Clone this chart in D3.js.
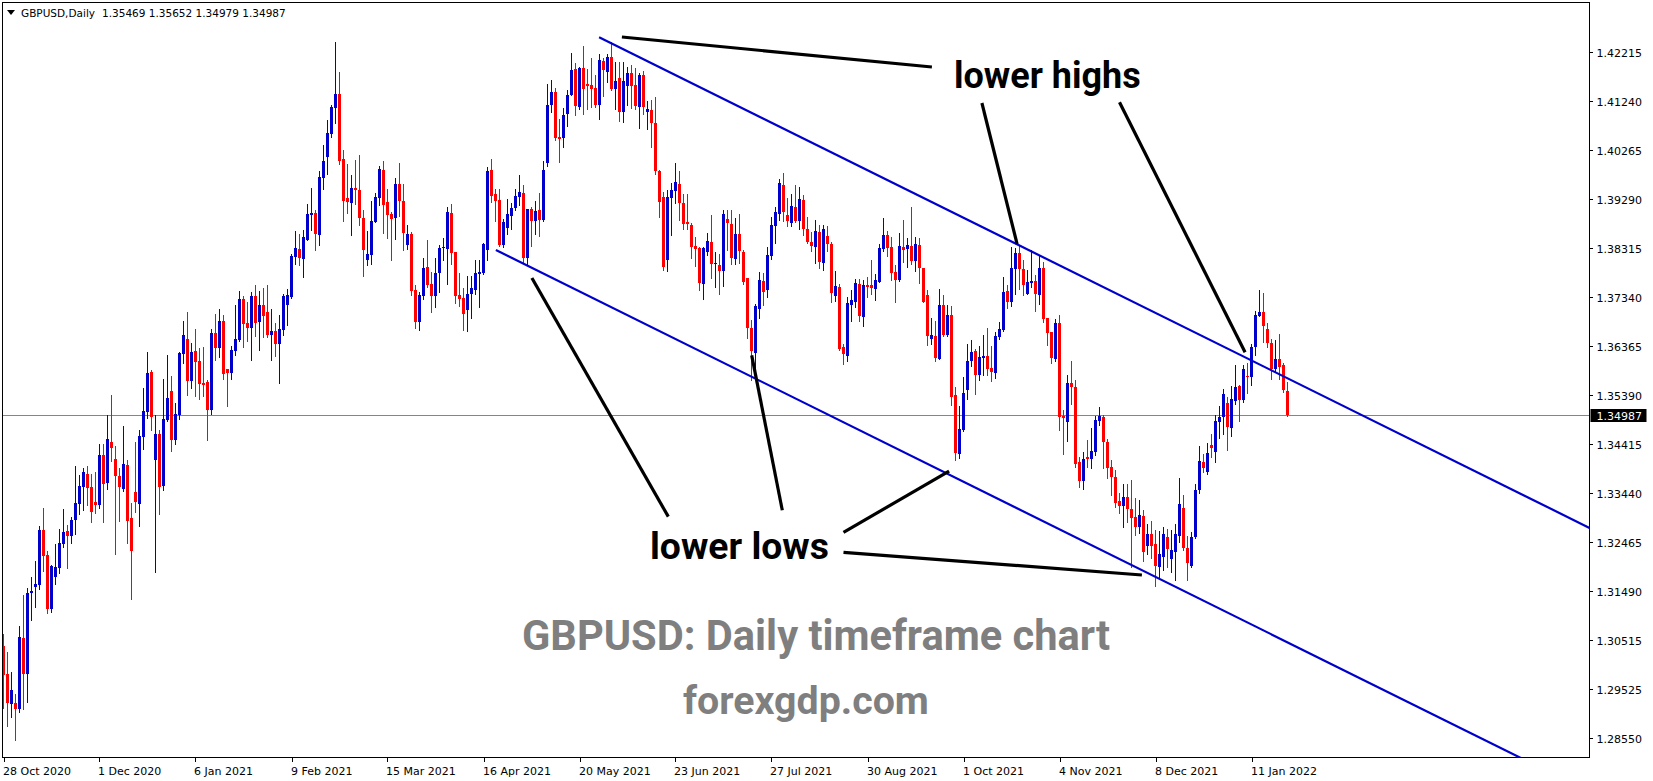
<!DOCTYPE html>
<html><head><meta charset="utf-8">
<script src="https://cdn.jsdelivr.net/npm/d3@7/dist/d3.min.js"></script>
<style>html,body{margin:0;padding:0;background:#fff;overflow:hidden}svg{display:block}</style>
</head><body><svg id="c" width="1653" height="781"></svg>
<script>
// ---- data (daily OHLC, bar index 0 = 28 Oct 2020) ----
const opens=[1.3039,1.2983,1.2923,1.2925,1.2914,1.3055,1.2983,1.3144,1.3157,1.3160,1.3270,1.3220,1.3113,1.3177,1.3195,1.3243,1.3268,1.3258,1.3290,1.3322,1.3356,1.3382,1.3356,1.3326,1.3320,1.3419,1.3364,1.3445,1.3411,1.3378,1.3352,1.3399,1.3294,1.3346,1.3322,1.3455,1.3505,1.3585,1.3409,1.3461,1.3358,1.3489,1.3547,1.3449,1.3499,1.3620,1.3650,1.3567,1.3626,1.3606,1.3563,1.3565,1.3509,1.3662,1.3632,1.3686,1.3591,1.3583,1.3626,1.3648,1.3730,1.3682,1.3672,1.3736,1.3684,1.3718,1.3704,1.3658,1.3666,1.3640,1.3668,1.3718,1.3735,1.3814,1.3830,1.3810,1.3848,1.3897,1.3901,1.3858,1.3971,1.4013,1.4059,1.4111,1.4138,1.4009,1.3931,1.3921,1.3951,1.3947,1.3891,1.3808,1.3818,1.3883,1.3931,1.3987,1.3923,1.3899,1.3891,1.3959,1.3925,1.3838,1.3860,1.3748,1.3684,1.3736,1.3794,1.3760,1.3736,1.3782,1.3832,1.3830,1.3901,1.3824,1.3738,1.3732,1.3708,1.3740,1.3748,1.3780,1.3782,1.3828,1.3987,1.3939,1.3927,1.3838,1.3872,1.3895,1.3911,1.3933,1.3941,1.3812,1.3909,1.3885,1.3907,1.3887,1.4001,1.4117,1.4142,1.4053,1.4051,1.4099,1.4136,1.4188,1.4113,1.4190,1.4158,1.4156,1.4150,1.4117,1.4204,1.4182,1.4212,1.4148,1.4170,1.4103,1.4154,1.4180,1.4156,1.4113,1.4176,1.4103,1.4107,1.4081,1.3986,1.3934,1.3808,1.3932,1.3945,1.3959,1.3922,1.3883,1.3877,1.3836,1.3832,1.3759,1.3824,1.3844,1.3799,1.3798,1.3785,1.3889,1.3880,1.3810,1.3860,1.3824,1.3772,1.3672,1.3623,1.3710,1.3766,1.3749,1.3816,1.3876,1.3900,1.3957,1.3897,1.3882,1.3913,1.3885,1.3927,1.3870,1.3844,1.3834,1.3864,1.3802,1.3856,1.3840,1.3737,1.3754,1.3634,1.3617,1.3719,1.3725,1.3760,1.3695,1.3758,1.3757,1.3750,1.3764,1.3830,1.3857,1.3834,1.3784,1.3768,1.3834,1.3830,1.3836,1.3806,1.3838,1.3792,1.3738,1.3650,1.3656,1.3611,1.3718,1.3658,1.3698,1.3539,1.3421,1.3469,1.3549,1.3607,1.3626,1.3579,1.3613,1.3617,1.3593,1.3583,1.3654,1.3668,1.3746,1.3724,1.3790,1.3822,1.3790,1.3740,1.3762,1.3766,1.3738,1.3792,1.3692,1.3664,1.3611,1.3682,1.3497,1.3485,1.3563,1.3555,1.3406,1.3368,1.3415,1.3411,1.3425,1.3487,1.3495,1.3445,1.3395,1.3375,1.3328,1.3318,1.3336,1.3312,1.3296,1.3276,1.3298,1.3238,1.3262,1.3242,1.3197,1.3217,1.3256,1.3213,1.3227,1.3257,1.3314,1.3235,1.3199,1.3255,1.3350,1.3405,1.3386,1.3439,1.3426,1.3486,1.3496,1.3523,1.3474,1.3527,1.3557,1.3529,1.3577,1.3574,1.3634,1.3697,1.3704,1.3670,1.3643,1.3590,1.3610,1.3599,1.35469];
const highs=[1.3063,1.3026,1.2987,1.2943,1.3079,1.3140,1.3154,1.3176,1.3208,1.3278,1.3314,1.3228,1.3200,1.3242,1.3272,1.3312,1.3280,1.3296,1.3397,1.3380,1.3393,1.3397,1.3382,1.3385,1.3441,1.3441,1.3499,1.3539,1.3437,1.3393,1.3477,1.3409,1.3324,1.3445,1.3469,1.3553,1.3624,1.3589,1.3499,1.3469,1.3571,1.3618,1.3577,1.3523,1.3624,1.3686,1.3704,1.3642,1.3670,1.3632,1.3634,1.3569,1.3670,1.3700,1.3710,1.3698,1.3591,1.3636,1.3718,1.3746,1.3736,1.3724,1.3744,1.3758,1.3746,1.3752,1.3758,1.3710,1.3682,1.3698,1.3740,1.3750,1.3820,1.3866,1.3860,1.3868,1.3919,1.3951,1.3907,1.3985,1.4037,1.4087,1.4117,1.4242,1.4182,1.4027,1.3999,1.3977,1.4007,1.4017,1.3907,1.3866,1.3925,1.3941,1.3995,1.4005,1.3949,1.3903,1.3971,1.4001,1.3959,1.3878,1.3864,1.3758,1.3744,1.3812,1.3848,1.3784,1.3812,1.3838,1.3852,1.3913,1.3919,1.3824,1.3782,1.3752,1.3776,1.3776,1.3808,1.3808,1.3842,1.3993,1.4009,1.3949,1.3949,1.3889,1.3929,1.3921,1.3949,1.3977,1.3957,1.3909,1.3913,1.3925,1.3941,1.4005,1.4158,1.4166,1.4150,1.4089,1.4111,1.4146,1.4220,1.4200,1.4192,1.4234,1.4188,1.4210,1.4176,1.4218,1.4210,1.4218,1.4242,1.4202,1.4202,1.4202,1.4192,1.4196,1.4190,1.4180,1.4184,1.4125,1.4127,1.4132,1.3988,1.3944,1.3947,1.3962,1.4001,1.3985,1.3939,1.3940,1.3881,1.3854,1.3833,1.3834,1.3862,1.3897,1.3823,1.3820,1.3907,1.3907,1.3907,1.3891,1.3899,1.3827,1.3772,1.3688,1.3720,1.3784,1.3782,1.3834,1.3894,1.3913,1.3969,1.3982,1.3931,1.3940,1.3957,1.3954,1.3937,1.3893,1.3864,1.3887,1.3878,1.3877,1.3875,1.3844,1.3786,1.3760,1.3640,1.3734,1.3749,1.3770,1.3769,1.3767,1.3774,1.3808,1.3780,1.3840,1.3891,1.3865,1.3853,1.3798,1.3862,1.3887,1.3852,1.3913,1.3853,1.3852,1.3792,1.3748,1.3692,1.3686,1.3750,1.3738,1.3718,1.3716,1.3555,1.3517,1.3575,1.3640,1.3648,1.3630,1.3636,1.3658,1.3672,1.3636,1.3664,1.3684,1.3774,1.3758,1.3834,1.3832,1.3836,1.3808,1.3788,1.3828,1.3778,1.3818,1.3804,1.3692,1.3664,1.3690,1.3698,1.3509,1.3579,1.3607,1.3569,1.3415,1.3425,1.3449,1.3473,1.3497,1.3515,1.3499,1.3451,1.3409,1.3389,1.3344,1.3362,1.3362,1.3369,1.3334,1.3330,1.3310,1.3282,1.3288,1.3270,1.3267,1.3276,1.3272,1.3270,1.3282,1.3373,1.3340,1.3257,1.3266,1.3362,1.3437,1.3421,1.3443,1.3461,1.3499,1.3516,1.3550,1.3534,1.3557,1.3599,1.3559,1.3599,1.3602,1.3640,1.3706,1.3748,1.3742,1.3682,1.3650,1.3648,1.3660,1.3603,1.35652];
const lows=[1.2916,1.2880,1.2898,1.2852,1.2908,1.2914,1.2928,1.3091,1.3117,1.3153,1.3189,1.3105,1.3107,1.3162,1.3184,1.3237,1.3194,1.3244,1.3262,1.3302,1.3310,1.3320,1.3286,1.3304,1.3314,1.3286,1.3352,1.3407,1.3222,1.3288,1.3348,1.3244,1.3132,1.3306,1.3278,1.3431,1.3493,1.3469,1.3186,1.3302,1.3350,1.3487,1.3427,1.3441,1.3491,1.3603,1.3539,1.3553,1.3537,1.3531,1.3537,1.3449,1.3501,1.3609,1.3615,1.3571,1.3517,1.3571,1.3619,1.3646,1.3634,1.3646,1.3609,1.3656,1.3629,1.3654,1.3654,1.3609,1.3617,1.3563,1.3658,1.3678,1.3732,1.3800,1.3798,1.3774,1.3848,1.3868,1.3828,1.3838,1.3949,1.3979,1.4053,1.4081,1.3999,1.3885,1.3901,1.3858,1.3919,1.3878,1.3776,1.3798,1.3800,1.3883,1.3917,1.3862,1.3852,1.3808,1.3850,1.3895,1.3828,1.3830,1.3738,1.3672,1.3668,1.3730,1.3754,1.3704,1.3714,1.3744,1.3808,1.3760,1.3800,1.3722,1.3716,1.3668,1.3666,1.3692,1.3740,1.3714,1.3780,1.3808,1.3923,1.3885,1.3836,1.3834,1.3860,1.3870,1.3907,1.3917,1.3802,1.3798,1.3836,1.3860,1.3856,1.3885,1.3995,1.4103,1.4047,1.4003,1.4033,1.4075,1.4136,1.4097,1.4109,1.4099,1.4109,1.4113,1.4113,1.4089,1.4134,1.4162,1.4146,1.4109,1.4085,1.4083,1.4117,1.4110,1.4109,1.4071,1.4099,1.4069,1.4033,1.3979,1.3894,1.3788,1.3785,1.3858,1.3922,1.3888,1.3870,1.3870,1.3812,1.3796,1.3749,1.3731,1.3817,1.3771,1.3753,1.3741,1.3755,1.3828,1.3799,1.3800,1.3802,1.3759,1.3653,1.3569,1.3571,1.3692,1.3719,1.3735,1.3809,1.3842,1.3888,1.3886,1.3875,1.3875,1.3884,1.3870,1.3857,1.3842,1.3826,1.3802,1.3792,1.3788,1.3826,1.3725,1.3727,1.3629,1.3601,1.3606,1.3687,1.3715,1.3687,1.3677,1.3734,1.3740,1.3729,1.3764,1.3826,1.3816,1.3768,1.3724,1.3766,1.3804,1.3794,1.3800,1.3786,1.3762,1.3724,1.3638,1.3640,1.3607,1.3611,1.3656,1.3656,1.3519,1.3409,1.3413,1.3467,1.3530,1.3597,1.3541,1.3568,1.3579,1.3579,1.3567,1.3573,1.3650,1.3666,1.3712,1.3716,1.3740,1.3750,1.3738,1.3740,1.3754,1.3706,1.3720,1.3684,1.3638,1.3603,1.3607,1.3469,1.3422,1.3447,1.3521,1.3396,1.3356,1.3352,1.3395,1.3393,1.3419,1.3479,1.3393,1.3374,1.3340,1.3316,1.3304,1.3276,1.3286,1.3197,1.3259,1.3263,1.3209,1.3223,1.3214,1.3159,1.3177,1.3190,1.3197,1.3187,1.3171,1.3247,1.3230,1.3170,1.3196,1.3254,1.3344,1.3386,1.3382,1.3416,1.3406,1.3453,1.3462,1.3430,1.3458,1.3520,1.3488,1.3524,1.3542,1.3559,1.3618,1.3697,1.3645,1.3635,1.3571,1.3587,1.3571,1.3545,1.34979];
const closes=[1.2981,1.2925,1.2951,1.2914,1.3057,1.2983,1.3144,1.3148,1.3162,1.3270,1.3218,1.3113,1.3199,1.3197,1.3244,1.3266,1.3258,1.3290,1.3324,1.3358,1.3385,1.3354,1.3306,1.3320,1.3419,1.3362,1.3451,1.3433,1.3378,1.3356,1.3401,1.3288,1.3228,1.3326,1.3457,1.3507,1.3583,1.3495,1.3461,1.3356,1.3491,1.3533,1.3449,1.3501,1.3622,1.3658,1.3567,1.3624,1.3605,1.3561,1.3559,1.3509,1.3662,1.3632,1.3686,1.3581,1.3583,1.3629,1.3650,1.3730,1.3680,1.3672,1.3736,1.3682,1.3718,1.3696,1.3658,1.3666,1.3640,1.3670,1.3736,1.3738,1.3816,1.3832,1.3812,1.3854,1.3899,1.3901,1.3860,1.3973,1.4005,1.4061,1.4113,1.4138,1.4005,1.3925,1.3923,1.3951,1.3947,1.3891,1.3828,1.3820,1.3885,1.3933,1.3989,1.3917,1.3897,1.3889,1.3959,1.3925,1.3862,1.3860,1.3746,1.3684,1.3738,1.3792,1.3758,1.3736,1.3782,1.3832,1.3834,1.3903,1.3822,1.3736,1.3730,1.3700,1.3740,1.3752,1.3782,1.3784,1.3840,1.3985,1.3935,1.3925,1.3838,1.3883,1.3899,1.3911,1.3935,1.3943,1.3812,1.3909,1.3885,1.3905,1.3887,1.3987,1.4117,1.4142,1.4051,1.4049,1.4097,1.4136,1.4186,1.4115,1.4190,1.4148,1.4154,1.4148,1.4117,1.4206,1.4186,1.4212,1.4148,1.4164,1.4103,1.4164,1.4180,1.4154,1.4115,1.4176,1.4113,1.4109,1.4081,1.3985,1.3924,1.3793,1.3933,1.3947,1.3963,1.3922,1.3880,1.3880,1.3834,1.3830,1.3761,1.3832,1.3846,1.3799,1.3802,1.3785,1.3899,1.3882,1.3812,1.3860,1.3826,1.3763,1.3673,1.3627,1.3717,1.3768,1.3745,1.3818,1.3877,1.3903,1.3961,1.3904,1.3885,1.3915,1.3885,1.3929,1.3870,1.3844,1.3836,1.3866,1.3804,1.3870,1.3840,1.3743,1.3756,1.3631,1.3621,1.3722,1.3728,1.3762,1.3697,1.3757,1.3754,1.3752,1.3768,1.3832,1.3857,1.3832,1.3782,1.3768,1.3836,1.3828,1.3838,1.3806,1.3840,1.3792,1.3725,1.3656,1.3658,1.3613,1.3718,1.3658,1.3698,1.3535,1.3423,1.3471,1.3543,1.3607,1.3625,1.3579,1.3615,1.3617,1.3591,1.3585,1.3656,1.3670,1.3744,1.3724,1.3792,1.3822,1.3790,1.3758,1.3764,1.3766,1.3740,1.3792,1.3690,1.3663,1.3613,1.3682,1.3495,1.3493,1.3563,1.3555,1.3402,1.3368,1.3412,1.3411,1.3427,1.3489,1.3497,1.3445,1.3393,1.3375,1.3324,1.3318,1.3336,1.3312,1.3294,1.3276,1.3300,1.3227,1.3262,1.3238,1.3199,1.3222,1.3262,1.3233,1.3230,1.3262,1.3322,1.3235,1.3204,1.3256,1.3350,1.3407,1.3394,1.3423,1.3434,1.3487,1.3496,1.3541,1.3476,1.3530,1.3555,1.3529,1.3591,1.3575,1.3634,1.3698,1.3704,1.3677,1.3643,1.3591,1.3610,1.3595,1.3549,1.34987];

const yTickValues=[1.42215,1.41240,1.40265,1.39290,1.38315,1.37340,1.36365,1.35390,1.34415,1.33440,1.32465,1.31490,1.30515,1.29525,1.28550];
const yTickLabels=["1.42215","1.41240","1.40265","1.39290","1.38315","1.37340","1.36365","1.35390","1.34415","1.33440","1.32465","1.31490","1.30515","1.29525","1.28550"];
const xTickBars=[0,24,48,72,96,120,144,168,192,216,240,264,288,312];
const xTickLabels=["28 Oct 2020","1 Dec 2020","6 Jan 2021","9 Feb 2021","15 Mar 2021","16 Apr 2021","20 May 2021","23 Jun 2021","27 Jul 2021","30 Aug 2021","1 Oct 2021","4 Nov 2021","8 Dec 2021","11 Jan 2022"];
const headerTitle="GBPUSD,Daily";
const headerValues=["1.35469","1.35652","1.34979","1.34987"];
const lastPrice=1.34987;
// trend lines as [barIndex, price] anchor pairs
const channelLines=[[[148.9,1.42514],[400,1.32603]],[[123.1,1.38277],[400,1.27342]]];
const arrowLines=[
  [[154.6,1.42520],[232.1,1.41922]],
  [[244.6,1.41205],[253.4,1.38396]],
  [[279.0,1.41219],[310.4,1.36239]],
  [[132.1,1.37719],[166.2,1.32966]],
  [[187.05,1.36179],[194.7,1.33094]],
  [[210.0,1.32651],[236.4,1.33874]],
  [[210.0,1.32253],[284.6,1.31803]]
];
const annotations=["lower highs","lower lows","GBPUSD: Daily timeframe chart","forexgdp.com"];

// ---- layout ----
const W=1653,H=781;
const plot={l:2,t:2,r:1589,b:757};
const BLUE="#0000CD", RED="#FF0000";
const svg=d3.select("#c");
const x=d3.scaleLinear().domain([0,321]).range([3.5,1287.5]);
const y=d3.scaleLinear().domain([1.28550,1.42215]).range([738.3,52.3]);

svg.append("rect").attr("width",W).attr("height",H).attr("fill","#fff");
svg.append("defs").append("clipPath").attr("id","clip").append("rect")
  .attr("x",plot.l+1).attr("y",plot.t+1).attr("width",plot.r-plot.l-1).attr("height",plot.b-plot.t-1);

const g=svg.append("g").attr("clip-path","url(#clip)");

// bid line
g.append("line").attr("x1",plot.l).attr("x2",plot.r)
  .attr("y1",Math.round(y(lastPrice))+0.5).attr("y2",Math.round(y(lastPrice))+0.5)
  .attr("stroke","#778899").attr("stroke-width",1);

// candles
const bars=d3.range(opens.length).map(i=>({i,o:opens[i],h:highs[i],l:lows[i],c:closes[i]}));
const cg=g.append("g").attr("shape-rendering","crispEdges");
cg.selectAll("rect.w").data(bars).join("rect").attr("class","w")
  .attr("x",d=>x(d.i)-0.5).attr("width",1)
  .attr("y",d=>Math.round(y(d.h))).attr("height",d=>Math.max(1,Math.round(y(d.l))-Math.round(y(d.h))+1))
  .attr("fill",d=>d.c>d.o?BLUE:RED);
cg.selectAll("rect.b").data(bars).join("rect").attr("class","b")
  .attr("x",d=>x(d.i)-1.5).attr("width",3)
  .attr("y",d=>Math.round(y(Math.max(d.o,d.c))))
  .attr("height",d=>Math.max(1,Math.round(y(Math.min(d.o,d.c)))-Math.round(y(Math.max(d.o,d.c)))))
  .attr("fill",d=>d.c>d.o?BLUE:RED);

// channel lines
const line=d3.line().x(p=>x(p[0])).y(p=>y(p[1]));
g.selectAll("path.ch").data(channelLines).join("path").attr("class","ch")
  .attr("d",line).attr("fill","none").attr("stroke",BLUE).attr("stroke-width",2.2);
// annotation arrows
g.selectAll("path.ar").data(arrowLines).join("path").attr("class","ar")
  .attr("d",line).attr("fill","none").attr("stroke","#000").attr("stroke-width",3.2);

// frame
svg.append("rect").attr("x",plot.l+0.5).attr("y",plot.t+0.5)
  .attr("width",plot.r-plot.l).attr("height",plot.b-plot.t)
  .attr("fill","none").attr("stroke","#000").attr("stroke-width",1).attr("shape-rendering","crispEdges");

// right axis
const ax=svg.append("g").attr("font-family","'DejaVu Sans',Verdana,sans-serif").attr("font-size",11).attr("fill","#000");
yTickValues.forEach((v,k)=>{
  const yy=Math.round(y(v))+0.5;
  ax.append("line").attr("x1",plot.r+0.5).attr("x2",plot.r+4).attr("y1",yy).attr("y2",yy).attr("stroke","#000").attr("shape-rendering","crispEdges");
  ax.append("text").attr("x",1596.5).attr("y",yy+4).text(yTickLabels[k]);
});
// current price box
const py=Math.round(y(lastPrice))+0.5;
ax.append("rect").attr("x",1590.5).attr("y",py-6.5).attr("width",56).attr("height",13).attr("fill","#000");
ax.append("text").attr("x",1596.5).attr("y",py+4).attr("fill","#fff").text(d3.format(".5f")(lastPrice));

// bottom axis
xTickBars.forEach((b,k)=>{
  const xx=Math.round(x(b))+0.5;
  ax.append("line").attr("x1",xx).attr("x2",xx).attr("y1",plot.b+0.5).attr("y2",plot.b+5).attr("stroke","#000").attr("shape-rendering","crispEdges");
  ax.append("text").attr("x",xx-1.5).attr("y",775).text(xTickLabels[k]);
});

// header
svg.append("path").attr("d","M7,10 L15,10 L11,15 Z").attr("fill","#000");
const hd=svg.append("text").attr("x",21).attr("y",16.5).attr("font-family","'DejaVu Sans',Verdana,sans-serif").attr("font-size",10.5).attr("fill","#000");
hd.append("tspan").text(headerTitle);
hd.append("tspan").attr("x",102).text(headerValues.join(" "));

// annotation texts
const tf="Roboto,'Open Sans',sans-serif";
svg.append("text").attr("x",954).attr("y",88).attr("font-family",tf).attr("font-weight",700).attr("font-size",36).attr("fill","#000").text(annotations[0]);
svg.append("text").attr("x",650).attr("y",559).attr("font-family",tf).attr("font-weight",700).attr("font-size",37.3).attr("fill","#000").text(annotations[1]);
svg.append("text").attr("x",522).attr("y",650).attr("font-family",tf).attr("font-weight",700).attr("font-size",41.6).attr("fill","#7f7f7f").text(annotations[2]);
svg.append("text").attr("x",683).attr("y",714).attr("font-family",tf).attr("font-weight",700).attr("font-size",39.3).attr("fill","#7f7f7f").text(annotations[3]);
</script></body></html>
